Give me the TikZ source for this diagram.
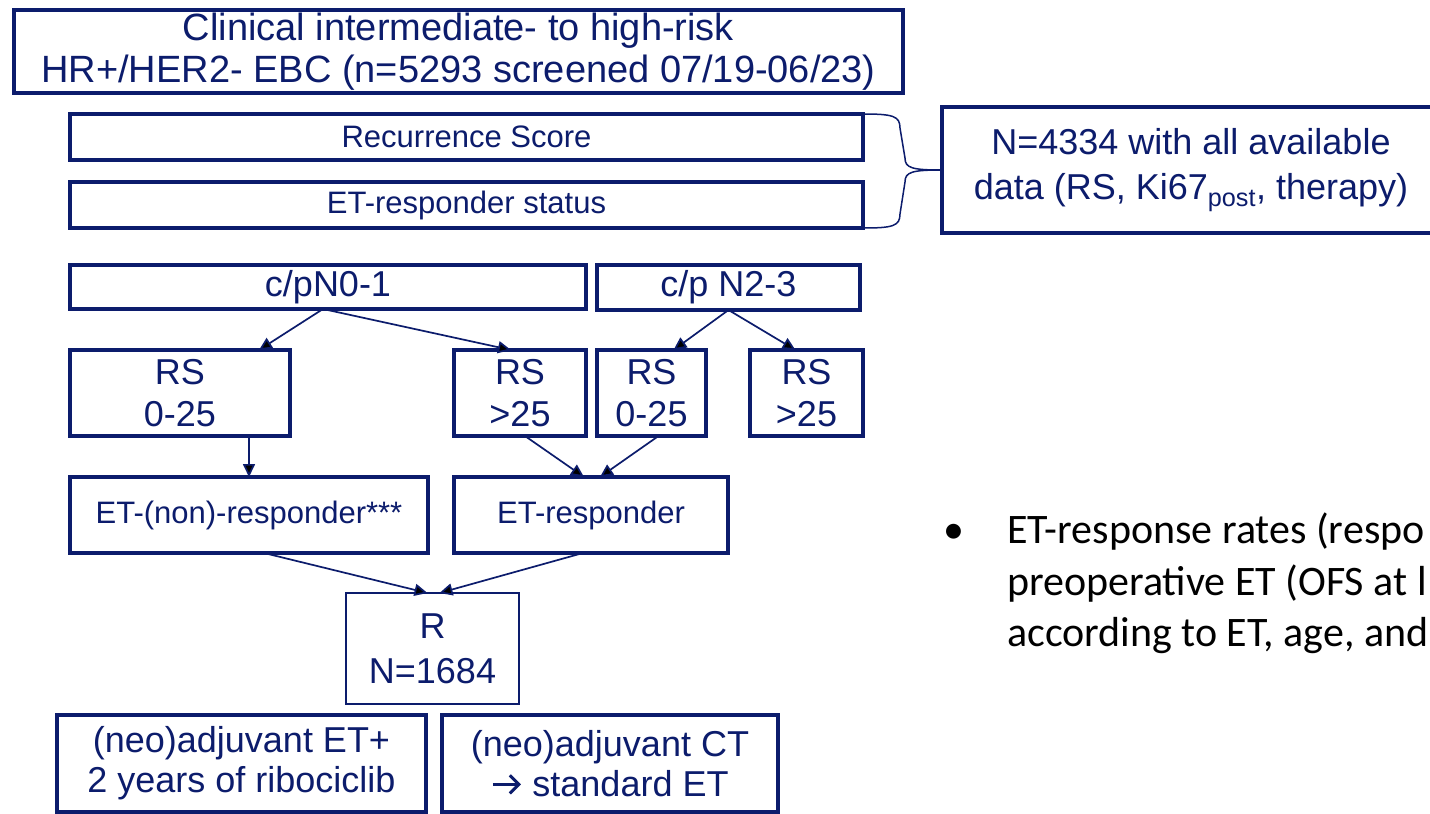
\documentclass[tikz,border=0pt]{standalone}
\usepackage{fontspec}
\setmainfont{Liberation Sans}
\newfontfamily\bodyfont{Carlito}
\usetikzlibrary{arrows.meta,calc}
\definecolor{navy}{RGB}{12,28,108}
\newcommand{\fs}[2]{\fontsize{#1}{#2}\selectfont}
\newcommand{\barbarrow}{\tikz[baseline=0pt]{\draw[navy, line width=3pt,
  -{Straight Barb[length=9pt,width=18pt,line width=3pt]}] (0pt,12pt) -- (28pt,12pt);}}
\tikzset{
  box/.style={draw=navy, line width=3.6pt, text=navy, align=center,
    inner sep=0pt, outer sep=0pt},
  thinbox/.style={box, line width=1.8pt},
  arr/.style={draw=navy, line width=1.7pt, -{Triangle[length=13pt,width=12pt]}},
  small/.style={font=\fs{31}{36}},
  mid/.style={font=\fs{36}{42}},
  bullettext/.style={anchor=base west, font=\bodyfont\fs{42}{52}, text=black, inner sep=0pt},
}
\begin{document}
\begin{tikzpicture}[x=1pt,y=-1pt]
\useasboundingbox[fill=white] (0,0) rectangle (1430,814);

% screening population
\node[box, minimum width=889pt, minimum height=83pt, font=\fs{38}{42}] (screen) at (458.5,51.5)
  {Clinical intermediate- to high-risk\\HR+/HER2- EBC (n=5293 screened 07/19-06/23)};

% assessments
\node[box, minimum width=793pt, minimum height=46pt, small] (rscore) at (466.5,137) {Recurrence Score};
\node[box, minimum width=793pt, minimum height=46pt, small] (etstat) at (466.5,205) {ET-responder status};

% evaluable population
\node[box, minimum width=498pt, minimum height=126pt, font=\fs{36}{45}] (avail) at (1191,170)
  {N=4334 with all available\\data (RS, Ki67\textsubscript{post}, therapy)};

% brace joining the two assessments
\coordinate (bt) at (rscore.north east);
\coordinate (bb) at (etstat.south east);
\coordinate (btip) at (avail.west);
\draw[navy, line width=1.5pt]
  (bt) .. controls ($(bt)+(30,0)$) and ($(bt)+(37,2)$) .. ($(bt)+(37,14)$)
  -- ($(btip)+(-37,-12)$)
  .. controls ($(btip)+(-37,-2)$) and ($(btip)+(-30,0)$) .. (btip)
  .. controls ($(btip)+(-30,0)$) and ($(btip)+(-37,2)$) .. ($(btip)+(-37,12)$)
  -- ($(bb)+(37,-14)$)
  .. controls ($(bb)+(37,-2)$) and ($(bb)+(30,0)$) .. (bb);

% nodal status
\node[box, minimum width=516pt, minimum height=44pt, mid] (n01) at (328,287) {c/pN0-1};
\node[box, minimum width=263pt, minimum height=45pt, mid] (n23) at (728.5,287.5) {c/p N2-3};

% recurrence score groups
\node[box, minimum width=220pt, minimum height=86pt, mid] (rs1) at (180,393) {RS\\0-25};
\node[box, minimum width=132pt, minimum height=86pt, mid] (rs2) at (520,393) {RS\\>25};
\node[box, minimum width=109pt, minimum height=86pt, mid] (rs3) at (651.5,393) {RS\\0-25};
\node[box, minimum width=113pt, minimum height=86pt, mid] (rs4) at (806.5,393) {RS\\>25};

% endocrine response
\node[box, minimum width=358pt, minimum height=76pt, small] (etnon) at (249,515) {ET-(non)-responder***};
\node[box, minimum width=274pt, minimum height=76pt, small] (etresp) at (591,515) {ET-responder};

% randomisation
\node[thinbox, minimum width=173pt, minimum height=111pt, font=\fs{36}{45}] (rand) at (432.5,648.5)
  {R\\N=1684};

% treatment arms
\node[box, minimum width=369pt, minimum height=97pt, font=\fs{36}{40}] (armA) at (241.5,763.5)
  {(neo)adjuvant ET+\\2 years of ribociclib};
\node[box, minimum width=336pt, minimum height=97pt, font=\fs{36}{40}] (armB) at (610,763.5)
  {(neo)adjuvant CT\\\barbarrow\ standard ET};

% connectors
\draw[arr] ([xshift=-5pt]n01.south) -- ([xshift=79pt]rs1.north);
\draw[arr] ([xshift=-5pt]n01.south) -- ([xshift=-9pt]rs2.north);
\draw[arr] (n23.south) -- ([xshift=22pt]rs3.north);
\draw[arr] (n23.south) -- ([xshift=-11pt]rs4.north);
\draw[arr] (etnon.north |- rs1.south) -- (etnon.north);
\draw[arr] ([xshift=5pt]rs2.south) -- ([xshift=-7pt]etresp.north);
\draw[arr] ([xshift=7pt]rs3.south) -- ([xshift=9pt]etresp.north);
\draw[arr] ([xshift=15pt]etnon.south) -- ([xshift=-5pt]rand.north);
\draw[arr] ([xshift=-8pt]etresp.south) -- ([xshift=7pt]rand.north);

% bullet text
\node[bullettext] (bul) at (943,543) {•};
\node[bullettext] (bl1) at (1007,543) {ET-response rates (respo};
\node[bullettext] (bl2) at (1007,595) {preoperative ET (OFS at l};
\node[bullettext] (bl3) at (1007,646) {according to ET, age, and};
\end{tikzpicture}
\end{document}
